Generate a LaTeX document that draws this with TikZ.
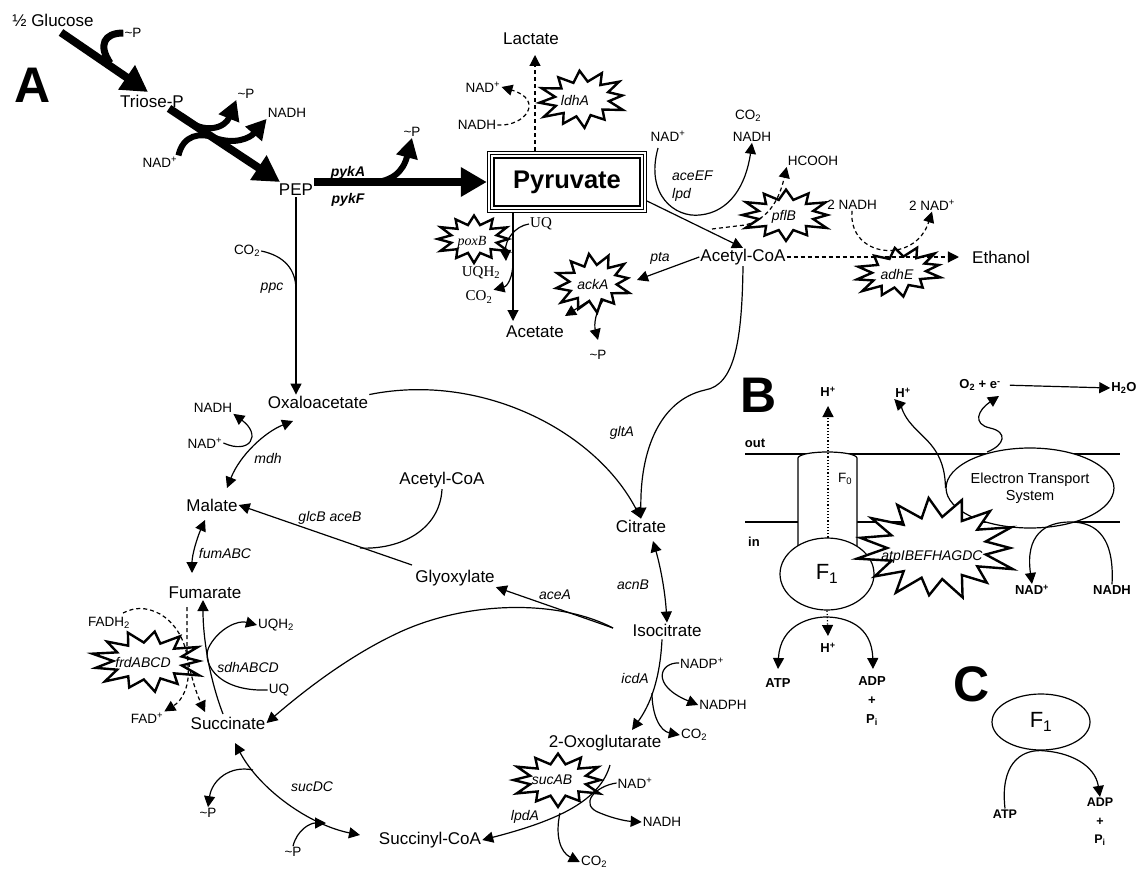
\documentclass[tikz,border=0pt]{standalone}
\usepackage{fontspec}
\setmainfont{Liberation Sans}
\newfontfamily\lserif{Liberation Serif}
\usetikzlibrary{arrows.meta,calc,shapes.geometric}
\newcommand\burst[5]{%
  \pgfmathsetmacro\bstep{180/#5}%
  \pgfmathtruncatemacro\blast{2*#5-1}%
  \draw[burstline, shift={(#1)}, rotate=#4]
    plot[samples at={0,...,\blast}, variable=\bk]
    ({#2*(0.6+mod(\bk+1,2)*(0.28+0.12*abs(sin(\bk*137))))*cos(\bk*\bstep)}, {#3*(0.6+mod(\bk+1,2)*(0.28+0.12*abs(sin(\bk*137))))*sin(\bk*\bstep)}) -- cycle;}
\begin{document}
\begin{tikzpicture}[x=1pt,y=-1pt,
  met/.style={font=\fontsize{17}{19}\selectfont, inner sep=1pt},
  sm/.style={font=\fontsize{13.5}{15}\selectfont, inner sep=1pt},
  gene/.style={font=\fontsize{14}{18}\selectfont\itshape, inner sep=1pt},
  bgene/.style={font=\fontsize{14}{16}\selectfont\bfseries\itshape, inner sep=1pt},
  sgene/.style={font=\fontsize{14}{16}\selectfont\lserif\itshape, inner sep=1pt},
  ser/.style={font=\fontsize{15}{17}\selectfont\lserif, inner sep=1pt},
  bsm/.style={font=\fontsize{13}{19}\selectfont\bfseries, inner sep=1pt},
  panel/.style={font=\fontsize{50}{54}\selectfont\bfseries, inner sep=0pt},
  pyrbox/.style={minimum width=160pt, minimum height=62pt, inner sep=0pt, font=\fontsize{25.5}{28}\selectfont\bfseries},
  conn/.style={line width=1.2pt},
  arr/.style={conn, -{Triangle[length=11pt,width=11pt]}},
  darr/.style={conn, {Triangle[length=11pt,width=11pt]}-{Triangle[length=11pt,width=11pt]}},
  dsh/.style={conn, dash pattern=on 4pt off 3pt},
  dsharr/.style={dsh, -{Triangle[length=11pt,width=11pt]}},
  dotarr/.style={line width=1.2pt, dotted, -{Triangle[length=11pt,width=11pt]}},
  gly/.style={line width=8pt, -{Triangle[length=26pt,width=28pt]}},
  gly2/.style={line width=6pt, -{Triangle[length=20pt,width=21pt]}},
  burstline/.style={line width=2.4pt, fill=white, line join=miter},
  oval/.style={ellipse, draw, conn, fill=white, inner sep=0pt}
]
\useasboundingbox (0,0) rectangle (1139,869);
\fill[white] (0,0) rectangle (1139,869);

% ---------- Panel B background shapes
\draw[conn] (745,454) -- (1120,454);
\draw[conn] (745,522) -- (1120,522);
\draw[conn, fill=white] (798,550) -- (798,458) .. controls (800,450) and (855,450) .. (857,458) -- (857,550);
\draw[dotarr] (828,560) -- (828,406);
\node[oval, minimum width=94pt, minimum height=72pt, font=\fontsize{22}{24}\selectfont] (f1b) at (827,574) {F\textsubscript{1}};
\node[oval, minimum width=160pt, minimum height=80pt, align=center, font=\fontsize{14.5}{17}\selectfont] (ets) at (1030,488) {Electron Transport\\System};
\node[oval, minimum width=98pt, minimum height=56pt, font=\fontsize{22}{24}\selectfont] (f1c) at (1041,722) {F\textsubscript{1}};

% ---------- bursts
\burst{582,99}{46}{29}{5}{12}
\burst{786,215}{47}{26}{0}{12}
\burst{899,272}{46}{25}{10}{12}
\burst{474,239}{39}{24}{0}{12}
\burst{593,283}{40}{30}{8}{12}
\burst{558,780}{48}{27}{0}{12}
\burst{148,661}{58}{31}{0}{13}
\burst{937,548}{83}{52}{0}{15}

% ---------- text nodes: panel A
\node[met] (glc) at (53,20) {½ Glucose};
\node[sm] (p1) at (133,33) {\textasciitilde P};
\node[panel] (pA) at (33,85) {A};
\node[met] (tri) at (152,101) {Triose-P};
\node[sm] (p2) at (246,94) {\textasciitilde P};
\node[sm] (nadh1) at (287,113) {NADH};
\node[sm] (nad1) at (160,162) {NAD\textsuperscript{+}};
\node[met] (pep) at (296,190) {PEP};
\node[bgene] (pykA) at (348,173) {pykA};
\node[bgene] (pykF) at (348,200) {pykF};
\node[sm] (p3) at (412,132) {\textasciitilde P};
\node[pyrbox] (pyr) at (567,182) {Pyruvate};
\draw[line width=1.4pt] ($(pyr.north west)+(0.7,0.7)$) rectangle ($(pyr.south east)+(-0.7,-0.7)$);
\draw[line width=1.2pt] ($(pyr.north west)+(3.8,3.8)$) rectangle ($(pyr.south east)+(-3.8,-3.8)$);
\draw[line width=2.2pt] ($(pyr.north west)+(7.5,7.5)$) rectangle ($(pyr.south east)+(-7.5,-7.5)$);
\node[met] (lac) at (531,39) {Lactate};
\node[gene] (ldhA) at (575,101) {ldhA};
\node[sm] (nad2) at (483,87) {NAD\textsuperscript{+}};
\node[sm] (nadh2) at (477,125) {NADH};
\node[sm] (nad3) at (668,136) {NAD\textsuperscript{+}};
\node[sm] (co2a) at (748,116) {CO\textsubscript{2}};
\node[sm] (nadh3) at (752,137) {NADH};
\node[gene, anchor=west, align=left] (aceEF) at (671,186) {aceEF\\lpd};
\node[sm] (hcooh) at (813,161) {HCOOH};
\node[gene] (pflB) at (784,217) {pflB};
\node[met] (acoa) at (743,257) {Acetyl-CoA};
\node[sm] (nadh4) at (852,205) {2 NADH};
\node[sm] (nad4) at (932,205) {2 NAD\textsuperscript{+}};
\node[met] (eth) at (1001,257) {Ethanol};
\node[gene] (adhE) at (897,274) {adhE};
\node[ser] (uq1) at (541,224) {UQ};
\node[sgene] (poxB) at (472,242) {poxB};
\node[ser] (uqh1) at (481,273) {UQH\textsubscript{2}};
\node[ser] (co2b) at (479,297) {CO\textsubscript{2}};
\node[met] (ace) at (535,332) {Acetate};
\node[gene] (ackA) at (593,284) {ackA};
\node[gene] (pta) at (660,258) {pta};
\node[sm] (p4) at (598,355) {\textasciitilde P};
\node[gene] (gltA) at (622,433) {gltA};
\node[met] (cit) at (641,526) {Citrate};
\node[sm] (co2c) at (247,251) {CO\textsubscript{2}};
\node[gene] (ppc) at (272,288) {ppc};
\node[met] (oaa) at (318,402) {Oxaloacetate};
\node[sm] (nadh5) at (213,408) {NADH};
\node[sm] (nad5) at (205,443) {NAD\textsuperscript{+}};
\node[gene] (mdh) at (268,458) {mdh};
\node[met] (mal) at (212,505) {Malate};
\node[met] (acoa2) at (442,480) {Acetyl-CoA};
\node[gene] (glcB) at (330,518) {glcB aceB};
\node[met] (glx) at (455,578) {Glyoxylate};
\node[gene] (aceA) at (555,595) {aceA};
\node[gene] (acnB) at (633,585) {acnB};
\node[met] (icit) at (667,630) {Isocitrate};
\node[gene] (icdA) at (635,678) {icdA};
\node[sm] (nadp) at (702,663) {NADP\textsuperscript{+}};
\node[sm] (nadph) at (723,705) {NADPH};
\node[sm] (co2d) at (694,735) {CO\textsubscript{2}};
\node[met] (oxo) at (605,743) {2-Oxoglutarate};
\node[gene] (sucAB) at (552,780) {sucAB};
\node[sm] (nad6) at (635,783) {NAD\textsuperscript{+}};
\node[sm] (nadh6) at (662,822) {NADH};
\node[sm] (co2e) at (594,862) {CO\textsubscript{2}};
\node[gene] (lpdA) at (525,817) {lpdA};
\node[met] (scoa) at (430,840) {Succinyl-CoA};
\node[gene] (sucDC) at (312,787) {sucDC};
\node[sm] (p5) at (208,813) {\textasciitilde P};
\node[sm] (p6) at (293,852) {\textasciitilde P};
\node[met] (suc) at (228,723) {Succinate};
\node[sm] (fad) at (147,718) {FAD\textsuperscript{+}};
\node[sm] (fadh) at (109,623) {FADH\textsubscript{2}};
\node[sm] (uqh2) at (276,625) {UQH\textsubscript{2}};
\node[sm] (uq2) at (279,690) {UQ};
\node[gene] (sdh) at (248,667) {sdhABCD};
\node[gene] (frd) at (143,662) {frdABCD};
\node[met] (fum) at (205,593) {Fumarate};
\node[gene] (fumABC) at (225,553) {fumABC};

% ---------- text nodes: panels B and C
\node[panel] (pB) at (759,395) {B};
\node[bsm] (memout) at (755,443) {out};
\node[bsm] (memin) at (754,542) {in};
\node[bsm] (hp1) at (828,392) {H\textsuperscript{+}};
\node[bsm] (hp2) at (903,393) {H\textsuperscript{+}};
\node[bsm] (o2) at (980,385) {O\textsubscript{2} + e\textsuperscript{-}};
\node[bsm] (h2o) at (1124,388) {H\textsubscript{2}O};
\node[sm] (f0) at (845,479) {F\textsubscript{0}};
\node[gene] (atpg) at (932,557) {atpIBEFHAGDC};
\node[bsm] (nad7) at (1032,590) {NAD\textsuperscript{+}};
\node[bsm] (nadh7) at (1112,590) {NADH};
\node[bsm] (hp3) at (828,648) {H\textsuperscript{+}};
\node[bsm] (atpB) at (778,683) {ATP};
\node[bsm, align=center] (adpB) at (872,701) {ADP\\+\\P\textsubscript{i}};
\node[panel] (pC) at (972,684) {C};
\node[bsm, font=\fontsize{12.5}{18.5}\selectfont\bfseries] (atpC) at (1005,814) {ATP};
\node[bsm, align=center, font=\fontsize{12.5}{18.5}\selectfont\bfseries] (adpC) at (1100,822) {ADP\\+\\P\textsubscript{i}};

% ---------- glycolysis (thick)
\draw[gly] (glc.south) ++(8,5) -- (148,92);
\draw[line width=7pt] (110,63) .. controls (98,45) and (104,33) .. (p1.west);
\draw[gly] (tri.south east) ++(-16,0) -- (280,182);
\draw[gly2] (183,118) .. controls (205,135) and (225,128) .. (p2.south west);
\draw[gly2] (nad1.north east) .. controls (183,135) and (200,132) .. (215,138) .. controls (235,145) and (250,138) .. (nadh1.south west);
\draw[gly] (pep.east |- pyr.west) -- (pyr.west);
\draw[gly2] (365,183) .. controls (392,183) and (403,172) .. (p3.south);

% ---------- pyruvate node connectors
\draw[arr] (pep.south) -- (pep.south |- oaa.north);
\draw[conn] (co2c.east) .. controls (285,256) and (296,270) .. (296,290);
\draw[dsharr] (pyr.north -| lac.south) ++(4,0) -- (535,55);
\draw[dsharr] (nadh2.east) .. controls (525,127) and (545,100) .. (nad2.east);
\draw[arr] (658,148) .. controls (645,195) and (675,218) .. (700,215) .. controls (730,212) and (746,185) .. (nadh3.south);
\draw[dsharr] (712,229) -- (745,225) .. controls (765,220) and (778,205) .. (hcooh.south west);
\draw[arr] (647,201) -- (acoa.north);
\draw[dsharr, shorten >=12pt] (acoa.east) -- (eth.west);
\draw[dsharr] (nadh4.south) .. controls (848,258) and (915,265) .. (nad4.south);
\draw[arr] (acoa.west) -- (637,280);
\draw[arr] (590,300) -- (565,316);
\draw[arr] (604,299) .. controls (595,312) and (594,325) .. (598,340);
\draw[arr] (513,213) -- (513,321);
\draw[arr] (uq1.west) .. controls (515,226) and (505,240) .. (506,261);
\draw[arr] (513,262) .. controls (513,276) and (508,286) .. (co2b.north east);

% ---------- TCA
\draw[arr] (acoa.south) .. controls (742,340) and (735,385) .. (705,390) .. controls (660,400) and (640,450) .. (cit.north);
\draw[arr] (oaa.north east) .. controls (480,372) and (595,430) .. (cit.north);
\draw[darr] (653,541) .. controls (660,565) and (665,590) .. (icit.north);
\draw[arr] (613,628) -- (glx.south east);
\draw[arr] (613,628) .. controls (560,600) and (470,600) .. (400,632) .. controls (350,655) and (305,690) .. (suc.east);
\draw[arr] (412,565) -- (mal.east);
\draw[conn] (acoa2.south) .. controls (440,530) and (400,550) .. (360,548);
\draw[darr] (227,488) .. controls (240,455) and (265,432) .. (293,421);
\draw[arr] (nad5.east) .. controls (250,455) and (262,435) .. (nadh5.south east);
\draw[darr] (205,520) .. controls (197,538) and (192,555) .. (192,573);
\draw[arr] (223,714) .. controls (210,680) and (203,640) .. (203,600);
\draw[arr] (uq2.west) .. controls (215,692) and (200,660) .. (210,645) .. controls (220,628) and (238,620) .. (uqh2.west);
\draw[dsharr] (187,607) -- (187,650) .. controls (189,670) and (195,690) .. (205,712);
\draw[dsharr] (123,613) .. controls (150,598) and (186,622) .. (188,665) .. controls (190,685) and (183,700) .. (fad.north east);
\draw[darr] (235,743) .. controls (260,790) and (310,825) .. (360,835);
\draw[arr] (253,770) .. controls (230,765) and (212,780) .. (p5.north);
\draw[arr] (p6.north) .. controls (297,830) and (310,823) .. (326,823);
\draw[arr] (icit.south) ++(-5,2) .. controls (660,680) and (650,705) .. (632,730);
\draw[arr] (nadp.west) .. controls (660,662) and (650,685) .. (nadph.west);
\draw[arr] (652,693) .. controls (652,715) and (660,731) .. (co2d.west);
\draw[arr] (610,765) .. controls (600,800) and (560,820) .. (scoa.east);
\draw[arr] (nad6.west) .. controls (595,786) and (578,805) .. (600,813) .. controls (612,818) and (625,821) .. (nadh6.west);
\draw[arr] (560,813) .. controls (555,835) and (560,852) .. (co2e.west);

% ---------- panel B connectors
\draw[dotarr] (f1b.south) -- (828,636);
\draw[darr] (778,669) .. controls (780,625) and (810,617) .. (826,617) .. controls (845,617) and (872,625) .. (873,669);
\draw[arr] (ets.west) .. controls (945,450) and (925,440) .. (912,425) .. controls (903,415) and (901,406) .. (hp2.south west);
\draw[arr] (987,452) .. controls (1005,445) and (1008,432) .. (990,428) .. controls (972,424) and (978,410) .. (999,396);
\draw[arr, shorten <=8pt] (o2.east) -- (h2o.west);
\draw[arr] (nadh7.north) .. controls (1115,530) and (1090,522) .. (1070,522) .. controls (1045,522) and (1025,535) .. (nad7.north);

% ---------- panel C connector
\draw[arr] (atpC.north) .. controls (1000,765) and (1020,750) .. (f1c.south) .. controls (1070,752) and (1095,765) .. (adpC.north);
\end{tikzpicture}
\end{document}
